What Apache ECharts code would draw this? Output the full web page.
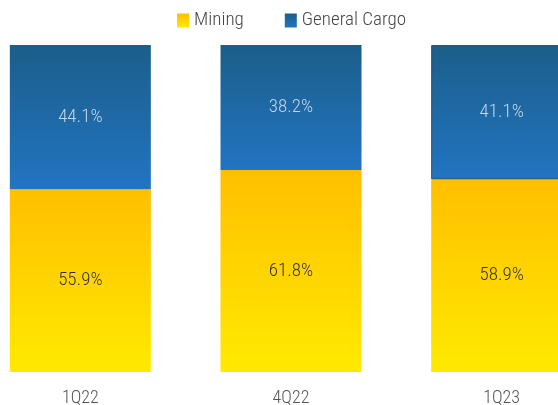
<!DOCTYPE html>
<html>
<head>
<meta charset="utf-8">
<script src="https://cdn.jsdelivr.net/npm/echarts@6/dist/echarts.min.js"></script>
<style>
  html, body { margin: 0; padding: 0; background: #ffffff; }
  #chart { width: 558px; height: 405px; }
</style>
</head>
<body>
<div id="chart"></div>
<script>
// Quarterly share of volume by segment (percent)
const categories = ['1Q22', '4Q22', '1Q23'];
const mining = [55.9, 61.8, 58.9];
const generalCargo = [44.1, 38.2, 41.1];

const FONT = '"Roboto Condensed", "Liberation Sans Narrow", Roboto, sans-serif';

const miningFill = new echarts.graphic.LinearGradient(0, 0, 0, 1, [
  { offset: 0, color: '#ffbf00' },
  { offset: 1, color: '#ffea00' }
]);
const cargoFill = new echarts.graphic.LinearGradient(0, 0, 0, 1, [
  { offset: 0, color: '#1b5e89' },
  { offset: 1, color: '#2274c2' }
]);

// the latest quarter's cargo block carries a thin dark outline
const cargoData = generalCargo.map((v, i) =>
  i === generalCargo.length - 1
    ? { value: v, itemStyle: { borderColor: '#34506a', borderWidth: 1 } }
    : v
);

const chart = echarts.init(document.getElementById('chart'), null, { renderer: 'canvas' });

chart.setOption({
  animation: false,
  legend: {
    top: 6,
    left: 172,
    itemWidth: 12,
    itemHeight: 14,
    itemGap: 41,
    textStyle: { fontFamily: FONT, fontSize: 19, fontWeight: 300, color: '#444' },
    data: [
      { name: 'Mining', icon: 'rect' },
      { name: 'General Cargo', icon: 'rect' }
    ]
  },
  // plot area runs past the right edge so the last bar is clipped
  grid: {
    left: -25, width: 632, top: 45, bottom: 33,
    containLabel: false,
    outerBoundsMode: 'none'
  },
  xAxis: {
    type: 'category',
    data: categories,
    axisLine: { show: false },
    axisTick: { show: false },
    axisLabel: {
      margin: 17,
      fontFamily: FONT,
      fontSize: 18,
      fontWeight: 300,
      color: '#555'
    }
  },
  yAxis: {
    type: 'value',
    min: 0,
    max: 100,
    show: false,
    splitLine: { show: false }
  },
  series: [
    {
      name: 'Mining',
      type: 'bar',
      stack: 'share',
      barWidth: 141,
      data: mining,
      itemStyle: { color: miningFill },
      label: {
        show: true,
        position: 'inside',
        formatter: p => p.value.toFixed(1) + '%',
        fontFamily: FONT,
        fontSize: 19,
        fontWeight: 300,
        color: '#333'
      }
    },
    {
      name: 'General Cargo',
      type: 'bar',
      stack: 'share',
      barWidth: 141,
      data: cargoData,
      itemStyle: { color: cargoFill },
      label: {
        show: true,
        position: 'inside',
        formatter: p => p.value.toFixed(1) + '%',
        fontFamily: FONT,
        fontSize: 19,
        fontWeight: 300,
        color: '#c4d6ea'
      }
    }
  ]
});
</script>
</body>
</html>
